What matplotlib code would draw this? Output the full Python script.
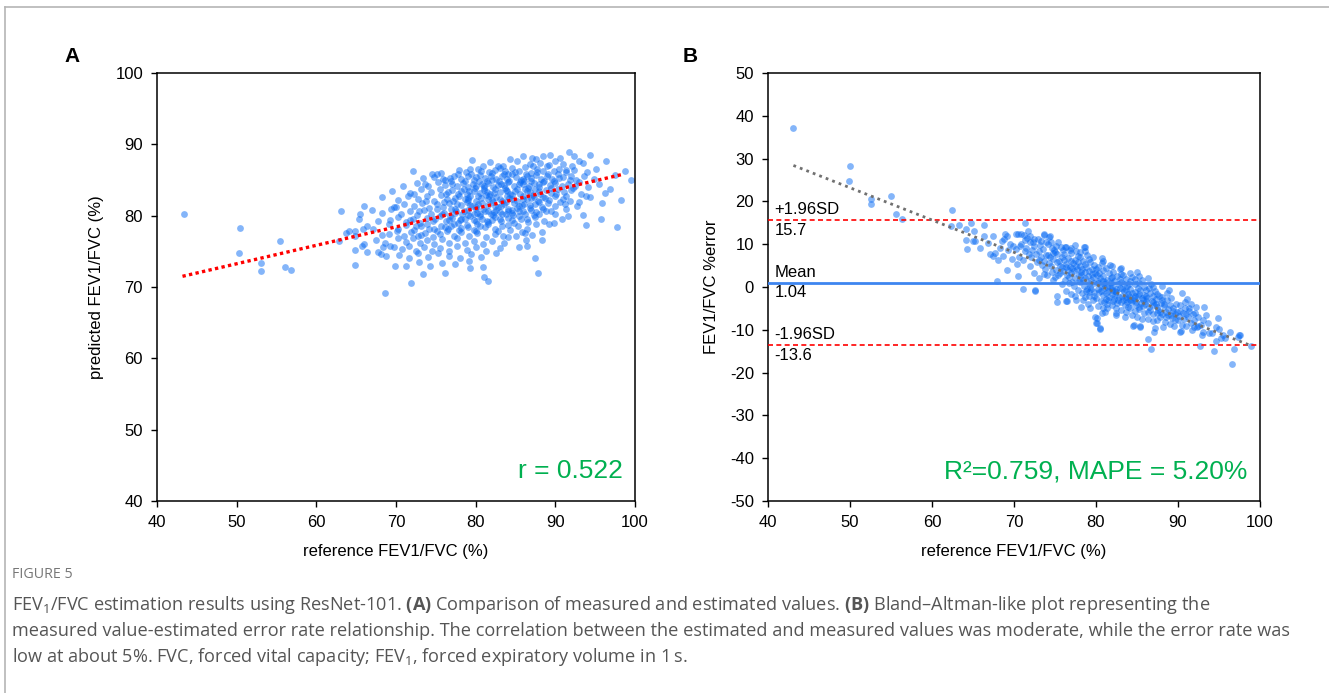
import matplotlib
matplotlib.use("Agg")
import matplotlib.pyplot as plt
from matplotlib.lines import Line2D

plt.rcParams['font.family'] = ['Liberation Sans', 'DejaVu Sans']
plt.rcParams['axes.unicode_minus'] = False
plt.rcParams['mathtext.fontset'] = 'custom'
plt.rcParams['mathtext.rm'] = 'Open Sans'
plt.rcParams['mathtext.bf'] = 'Open Sans:bold'

# panel A: reference vs predicted FEV1/FVC
points_a = [
    (43.4, 80.3), (50.4, 78.3), (50.3, 74.7), (53.0, 73.3), (53.1, 72.2), (55.5, 76.4), (56.1, 72.8), (56.8, 72.4),
    (63.1, 80.6), (63.7, 77.6), (64.1, 77.9), (64.8, 77.8), (64.8, 77.2), (62.9, 76.5), (65.3, 79.6), (65.8, 78.1),
    (64.9, 75.2), (64.9, 73.1), (65.7, 75.7), (66.0, 76.0), (66.4, 74.9), (67.0, 80.8), (67.1, 78.1), (67.8, 74.9),
    (68.1, 74.6), (68.4, 75.6), (68.8, 74.3), (68.6, 69.2), (69.1, 78.9), (69.3, 79.4), (69.7, 81.2), (70.0, 81.2),
    (69.1, 77.5), (69.3, 75.8), (69.7, 75.6), (69.9, 73.0), (70.2, 78.2), (66.0, 81.3), (65.5, 80.3), (68.2, 80.4),
    (68.3, 82.6), (67.8, 79.2), (66.4, 78.6), (67.5, 76.6), (68.6, 76.2), (68.3, 77.3), (69.5, 83.5),
    # y 88-89
    (86.0, 88.4), (87.1, 88.1), (87.6, 88.0), (88.5, 88.3), (89.3, 88.5), (91.7, 88.9), (92.4, 88.3), (94.4, 88.5), (90.6, 88.1),
    # y 87-88
    (79.6, 87.8), (81.8, 87.5), (82.8, 87.0), (83.4, 87.0), (90.0, 87.7), (93.0, 87.7), (93.5, 87.4), (96.3, 87.7),
    (85.2, 87.6), (86.8, 87.3), (88.1, 87.4), (84.3, 87.9), (89.2, 87.1), (91.0, 87.2), (92.1, 87.0),
    # y 86-87
    (72.1, 86.2), (74.5, 85.8), (75.2, 85.8), (78.8, 86.1), (79.3, 86.5), (80.3, 86.6), (81.7, 86.1), (94.0, 86.1),
    (97.5, 85.7), (98.8, 86.3), (76.8, 85.3), (77.9, 86.4), (80.9, 86.9), (82.4, 86.4), (83.7, 86.2), (84.6, 86.7),
    (85.5, 86.3), (86.2, 86.8), (86.9, 86.0), (87.7, 86.5), (88.4, 86.2), (89.0, 86.9), (89.8, 86.3), (90.5, 86.6),
    (91.4, 86.1), (92.3, 86.4), (95.1, 86.5), (83.0, 86.7), (87.2, 86.9),
    # y 85-86
    (73.4, 85.3), (75.9, 85.1), (77.3, 85.6), (78.2, 85.2), (79.0, 85.5), (79.8, 85.0), (80.6, 85.7), (81.2, 85.3),
    (81.9, 85.6), (82.6, 85.1), (83.3, 85.5), (83.9, 85.2), (84.5, 85.8), (85.1, 85.4), (85.7, 85.0), (86.4, 85.6),
    (87.0, 85.3), (87.6, 85.7), (88.2, 85.1), (88.9, 85.5), (89.6, 85.2), (90.3, 85.8), (91.0, 85.4), (91.8, 85.0),
    (92.6, 85.0), (93.6, 85.5), (96.9, 83.7), (99.5, 85.0), (84.0, 85.9), (86.0, 85.2), (82.0, 85.0), (80.1, 85.4),
    # y 84-85
    (70.9, 84.2), (72.6, 84.6), (74.0, 84.1), (75.3, 84.7), (76.1, 84.3), (76.9, 84.8), (77.6, 84.2), (78.4, 84.6),
    (79.1, 84.0), (79.7, 84.5), (80.4, 84.9), (81.0, 84.2), (81.6, 84.6), (82.2, 84.0), (82.9, 84.8), (83.5, 84.3),
    (84.1, 84.7), (84.8, 84.1), (85.4, 84.5), (86.1, 84.9), (86.7, 84.2), (87.3, 84.6), (88.0, 84.0), (88.6, 84.8),
    (89.3, 84.3), (90.0, 84.6), (90.8, 84.1), (91.6, 84.5), (92.5, 84.2), (94.1, 84.0), (95.5, 84.4), (83.2, 84.5),
    (85.9, 84.4), (87.9, 84.5), (80.8, 84.4),
    # y 83-84
    (71.8, 83.2), (73.1, 83.8), (74.4, 83.3), (75.5, 83.7), (76.3, 83.1), (77.0, 83.6), (77.8, 83.0), (78.5, 83.8),
    (79.2, 83.4), (79.9, 83.9), (80.5, 83.2), (81.1, 83.6), (81.8, 83.0), (82.4, 83.7), (83.0, 83.3), (83.7, 83.9),
    (84.3, 83.1), (84.9, 83.5), (85.6, 83.0), (86.2, 83.8), (86.8, 83.3), (87.5, 83.7), (88.1, 83.1), (88.8, 83.6),
    (89.5, 83.2), (90.3, 83.8), (91.1, 83.3), (92.0, 83.6), (93.2, 83.1), (96.2, 83.2), (81.4, 83.3), (83.9, 83.4),
    (86.5, 83.5), (78.9, 83.1),
    # y 82-83
    (70.2, 82.2), (71.5, 82.8), (72.8, 82.3), (73.9, 82.7), (74.8, 82.1), (75.6, 82.9), (76.4, 82.4), (77.1, 82.0),
    (77.9, 82.7), (78.6, 82.3), (79.3, 82.8), (80.0, 82.1), (80.7, 82.5), (81.3, 82.9), (82.0, 82.2), (82.6, 82.6),
    (83.3, 82.0), (83.9, 82.8), (84.6, 82.4), (85.2, 82.0), (85.9, 82.7), (86.5, 82.3), (87.2, 82.9), (87.8, 82.1),
    (88.5, 82.6), (89.2, 82.2), (90.0, 82.8), (90.9, 82.3), (91.8, 82.0), (93.0, 81.9), (93.9, 82.8), (94.3, 82.6),
    (95.8, 81.8), (98.2, 82.2), (81.6, 82.4), (84.2, 82.5), (86.9, 82.5), (79.0, 82.5),
    # y 81-82
    (71.0, 81.7), (72.2, 81.3), (73.3, 81.8), (74.2, 81.1), (75.1, 81.6), (75.9, 81.2), (76.7, 81.8), (77.4, 81.0),
    (78.2, 81.5), (78.9, 81.9), (79.6, 81.3), (80.3, 81.7), (80.9, 81.0), (81.5, 81.5), (82.2, 81.9), (82.8, 81.2),
    (83.5, 81.6), (84.1, 81.0), (84.8, 81.8), (85.4, 81.3), (86.1, 81.7), (86.8, 81.1), (87.5, 81.6), (88.3, 81.2),
    (89.1, 81.8), (90.0, 81.3), (91.2, 81.6), (92.7, 81.3), (83.2, 81.4), (85.8, 81.5), (88.0, 81.9), (80.0, 81.2),
    # y 80-81
    (69.4, 80.9), (70.6, 80.2), (71.7, 80.7), (72.6, 80.1), (73.5, 80.8), (74.4, 80.3), (75.2, 80.9), (76.0, 80.4),
    (76.8, 80.0), (77.5, 80.7), (78.3, 80.2), (79.0, 80.8), (79.8, 80.3), (80.5, 80.0), (81.2, 80.6), (81.9, 80.2),
    (82.6, 80.8), (83.3, 80.3), (84.0, 80.7), (84.7, 80.1), (85.4, 80.6), (86.2, 80.2), (87.0, 80.8), (87.9, 80.3),
    (88.8, 80.7), (89.9, 80.2), (91.6, 80.0), (93.5, 80.1), (82.3, 80.5), (80.2, 80.4), (84.5, 80.4),
    # y 79-80
    (70.3, 79.8), (71.2, 79.1), (72.1, 79.6), (73.0, 79.0), (73.9, 79.7), (74.7, 79.3), (75.5, 79.9), (76.3, 79.2),
    (77.0, 79.7), (77.8, 79.0), (78.6, 79.5), (79.3, 79.9), (80.1, 79.2), (80.8, 79.6), (81.6, 79.1), (82.4, 79.8),
    (83.2, 79.3), (84.0, 79.7), (84.8, 79.0), (85.7, 79.5), (86.6, 79.1), (87.5, 79.8), (88.6, 79.3), (89.8, 79.0),
    (95.7, 79.5), (90.8, 79.6), (78.0, 79.4), (82.0, 79.4),
    # y 78-79
    (71.3, 78.7), (72.2, 78.0), (73.1, 78.5), (73.9, 78.9), (74.8, 78.2), (75.6, 78.6), (76.5, 78.1), (77.3, 78.8),
    (78.1, 78.3), (78.9, 78.7), (79.8, 78.0), (80.6, 78.5), (81.5, 78.9), (82.4, 78.2), (83.3, 78.6), (84.3, 78.0),
    (85.3, 78.5), (86.4, 78.2), (87.6, 78.8), (89.2, 78.8), (93.9, 78.7), (97.8, 78.4), (76.1, 78.4), (80.2, 78.8),
    # y 77-78
    (70.1, 77.9), (71.0, 77.2), (71.9, 77.7), (72.8, 77.1), (73.7, 77.6), (74.6, 77.0), (75.5, 77.5), (76.4, 77.9),
    (77.3, 77.2), (78.2, 77.7), (79.2, 77.1), (80.2, 77.6), (81.3, 77.0), (82.4, 77.5), (83.4, 77.1), (84.1, 77.0),
    (85.1, 77.1), (86.2, 77.6), (88.3, 77.7), (87.1, 77.3), (73.2, 77.3),
    # y 76-77
    (70.2, 76.8), (71.2, 76.3), (72.1, 76.9), (73.0, 76.1), (73.9, 76.6), (74.8, 76.0), (75.8, 76.7), (76.7, 76.2),
    (77.7, 76.8), (78.7, 76.1), (79.8, 76.5), (80.9, 76.0), (82.1, 76.4), (86.3, 76.6), (88.3, 76.6), (83.5, 76.2),
    # y 75-76
    (70.8, 75.3), (71.6, 75.8), (72.5, 75.1), (73.5, 75.6), (74.5, 75.0), (75.5, 75.5), (76.6, 75.1), (77.7, 75.7),
    (78.9, 75.2), (80.1, 75.6), (81.3, 75.0), (85.5, 75.6), (86.4, 75.8), (83.0, 75.4),
    # y 74-75
    (70.4, 74.5), (71.6, 74.1), (72.8, 74.7), (74.0, 74.2), (75.3, 74.8), (76.6, 74.3), (78.0, 74.0), (79.4, 74.6),
    (80.7, 74.2), (87.4, 74.0), (82.6, 74.7),
    # y below 74
    (71.2, 73.0), (74.3, 72.9), (77.4, 73.2), (79.2, 73.6), (80.9, 72.8), (72.9, 73.5), (75.8, 73.4), (76.2, 71.9),
    (73.4, 71.8), (87.8, 72.0), (81.0, 71.4), (81.5, 70.9), (71.9, 70.6), (79.3, 72.6),
    # dense core, second layer
    (76.2, 85.0), (77.0, 84.5), (77.8, 85.9), (78.6, 84.9), (79.4, 85.8), (80.0, 84.1), (80.7, 86.2), (81.4, 84.9),
    (82.1, 86.0), (82.8, 84.3), (83.5, 85.8), (84.2, 84.9), (84.9, 86.1), (85.6, 84.7), (86.3, 85.9), (87.0, 84.8),
    (87.7, 86.1), (88.4, 84.7), (89.1, 85.9), (89.8, 84.8), (90.5, 85.3), (91.3, 86.4),
    (76.5, 83.3), (77.4, 82.5), (78.2, 83.4), (79.0, 82.2), (79.8, 83.5), (80.3, 82.8), (81.0, 83.9), (81.7, 82.7),
    (82.3, 83.2), (83.1, 82.4), (83.8, 83.6), (84.5, 82.9), (85.2, 83.7), (85.9, 82.3), (86.6, 83.9), (87.3, 82.6),
    (88.0, 83.4), (88.7, 82.5), (89.4, 83.9), (90.1, 83.0), (91.4, 82.7),
    (76.0, 81.9), (76.9, 80.9), (77.7, 81.7), (78.5, 80.6), (79.3, 81.5), (80.1, 80.9), (80.8, 81.8), (81.6, 80.7),
    (82.4, 81.3), (83.1, 80.5), (83.8, 81.9), (84.5, 80.8), (85.2, 81.1), (86.0, 80.6), (86.8, 81.5), (87.6, 80.5),
    (88.5, 81.0), (89.5, 80.6),
    (74.9, 79.6), (75.8, 80.3), (76.6, 79.4), (77.4, 80.4), (78.2, 79.6), (79.0, 80.1), (79.8, 79.4), (80.6, 80.2),
    (81.4, 79.3), (82.2, 80.1), (83.0, 79.5), (83.8, 80.2), (84.6, 79.4), (85.5, 80.0), (86.4, 79.6), (87.3, 80.1),
    (74.2, 78.1), (75.2, 77.8), (76.9, 78.5), (77.9, 78.0), (79.0, 78.4), (80.1, 77.9), (81.2, 78.4), (82.8, 77.8),
    (84.0, 78.7), (85.8, 77.7),
    (72.9, 80.6), (73.8, 82.1), (72.3, 83.1), (73.6, 84.4), (74.8, 85.4), (75.7, 86.0), (71.8, 79.4), (72.5, 78.6),
    (92.2, 83.9), (93.0, 84.7), (90.6, 81.9), (91.3, 80.9), (92.0, 85.5), (94.8, 85.2),
]

# panel B: reference value vs % error
points_b = [
    (43.1, 37.1), (50.0, 28.2), (49.9, 24.7), (52.6, 20.6), (52.6, 19.5), (55.0, 21.3), (55.6, 17.1), (56.3, 16.0),
    (62.4, 18.1), (62.3, 14.2), (63.3, 14.4), (64.7, 14.9), (64.1, 13.5), (65.1, 13.1), (64.2, 10.9), (65.0, 10.8),
    (65.3, 10.8), (64.3, 8.8), (65.8, 9.1),
    (66.3, 14.4), (66.3, 11.8), (67.1, 7.7), (67.4, 7.3), (67.7, 7.9), (67.9, 1.4), (66.8, 10.2), (67.5, 12.0),
    (68.0, 6.2), (68.3, 9.1), (68.5, 10.7), (68.9, 12.3), (69.2, 12.0), (68.6, 7.3), (69.1, 4.0), (69.3, 8.7),
    (69.7, 6.5), (69.5, 10.1), (68.8, 11.3), (69.9, 9.5),
    (70.2, 12.5), (70.5, 12.3), (70.8, 12.4), (71.3, 15.0), (71.3, 11.0), (71.6, 11.4), (70.3, 8.8), (70.6, 7.1),
    (71.1, 6.3), (70.5, 2.6), (71.1, -0.5), (70.9, 10.0), (71.5, 9.2), (71.8, 7.8), (70.4, 5.4), (71.9, 4.9),
    (71.2, 12.1), (71.7, 13.0), (70.7, 9.6), (71.4, 8.3),
    (72.0, 12.0), (72.3, 10.5), (72.6, -0.7), (72.6, -0.9), (73.6, 12.2), (73.7, 12.3), (72.9, 11.3), (73.2, 9.9),
    (72.2, 8.7), (72.7, 7.6), (73.0, 6.4), (73.4, 5.2), (73.8, 4.1), (72.4, 3.3), (73.1, 2.0), (73.5, 8.9),
    (73.9, 10.6), (72.8, 5.8), (73.3, 7.1), (72.1, 6.9), (73.7, 3.0), (72.5, 9.6), (73.6, 6.0),
    (74.3, 11.6), (74.4, 11.8), (74.1, 10.1), (74.6, 9.0), (75.0, 8.2), (75.4, 10.4), (74.2, 7.4), (74.8, 6.6),
    (75.3, 5.8), (75.8, 7.0), (74.5, 4.9), (75.1, 4.0), (75.6, 3.2), (74.0, 2.7), (74.7, 1.6), (75.2, -2.1),
    (75.3, -3.4), (75.9, 0.6), (74.9, 8.7), (75.5, 6.1), (74.3, 5.5), (75.7, 9.3), (74.6, 3.5), (75.0, 2.3),
    (75.9, 4.6), (74.4, 6.9), (75.2, 7.8),
    (76.3, 9.4), (76.2, 9.3), (76.5, -3.3), (76.4, -3.3), (77.5, 9.8), (77.6, 8.3), (77.6, -3.0), (76.1, 7.6),
    (76.6, 6.8), (77.0, 7.9), (77.4, 6.3), (77.8, 7.2), (76.3, 5.4), (76.8, 4.7), (77.2, 5.6), (77.7, 4.2),
    (76.0, 3.8), (76.5, 2.9), (77.0, 3.3), (77.5, 2.1), (77.9, 1.4), (76.2, 1.7), (76.7, 0.9), (77.3, 0.2),
    (77.8, -0.6), (76.4, -1.0), (76.9, -1.6), (77.4, -2.2), (76.8, 8.6), (77.1, 1.2), (76.6, 4.0), (77.6, 5.0),
    (76.1, 6.2),
    (78.5, 9.3), (78.6, 8.3), (78.6, 9.4), (78.2, -4.6), (79.3, -5.0), (79.3, 5.9), (79.9, -7.1), (78.1, 7.0),
    (78.4, 6.1), (78.9, 7.5), (79.2, 6.6), (79.7, 5.2), (78.0, 5.0), (78.3, 4.1), (78.8, 4.6), (79.1, 3.7),
    (79.5, 4.3), (79.9, 3.2), (78.2, 2.8), (78.6, 2.0), (79.0, 2.5), (79.4, 1.6), (79.8, 0.9), (78.1, 1.1),
    (78.5, 0.3), (78.9, -0.4), (79.3, 0.0), (79.7, -1.1), (78.3, -1.5), (78.7, -2.3), (79.1, -2.0), (79.6, -3.0),
    (78.4, -3.1), (79.0, -3.9), (79.5, 3.0), (78.7, 3.4), (79.2, -1.2),
    (80.0, -8.5), (80.1, -8.5), (80.5, -9.5), (80.5, -9.7), (80.1, -7.2), (80.7, 5.5), (80.7, 6.7), (81.7, 5.1),
    (81.1, -5.8), (80.3, 4.6), (80.8, 3.9), (81.2, 4.4), (81.6, 3.3), (80.1, 2.7), (80.5, 2.1), (80.9, 2.5),
    (81.3, 1.6), (81.8, 1.0), (80.2, 0.9), (80.6, 0.3), (81.0, -0.3), (81.4, 0.1), (81.9, -0.8), (80.4, -1.2),
    (80.8, -1.9), (81.2, -1.5), (81.6, -2.4), (80.0, -2.6), (80.6, -3.2), (81.0, -3.6), (81.5, -3.0), (81.9, -4.1),
    (80.3, -4.4), (80.9, -5.0), (81.4, -4.8), (80.7, -6.0), (81.8, 2.2), (80.4, 3.3), (81.1, 1.1), (81.5, -1.0),
    (82.5, -6.1), (82.5, -6.5), (83.5, -7.1), (83.3, 2.8), (82.1, 3.5), (82.6, 2.6), (83.0, 3.1), (83.6, 1.9),
    (82.2, 1.4), (82.7, 0.8), (83.1, 1.2), (83.8, 0.3), (82.0, 0.1), (82.4, -0.5), (82.9, -0.2), (83.4, -1.0),
    (83.9, -1.6), (82.3, -1.8), (82.8, -2.4), (83.2, -2.0), (83.7, -2.9), (82.1, -3.2), (82.6, -3.8), (83.0, -3.4),
    (83.5, -4.2), (83.9, -4.6), (82.4, -4.9), (83.1, -5.3), (83.7, -5.8), (82.9, 4.1), (83.4, 0.6), (82.2, -2.7),
    (83.8, -3.5),
    (84.4, 2.4), (85.0, 3.4), (85.2, 2.6), (84.6, -8.9), (84.5, -9.1), (85.4, -9.1), (85.4, -9.3), (84.1, 1.3),
    (84.7, 0.7), (85.3, 1.0), (85.8, 0.0), (84.2, -0.4), (84.8, -1.1), (85.4, -0.7), (85.9, -1.8), (84.0, -2.0),
    (84.6, -2.6), (85.1, -2.2), (85.7, -3.1), (84.3, -3.6), (84.9, -4.1), (85.5, -3.8), (84.1, -4.9), (84.7, -5.5),
    (85.3, -5.2), (85.9, -6.0), (84.4, -6.6), (85.0, -7.0), (85.6, -7.4), (84.8, 1.8), (85.2, -4.6), (84.5, -3.0),
    (86.3, 2.0), (87.0, 0.1), (88.0, 0.2), (86.3, -12.2), (86.7, -14.6), (87.2, -9.5), (87.1, -10.4), (86.1, -0.8),
    (86.6, -1.4), (87.2, -1.0), (87.7, -2.1), (86.2, -2.6), (86.8, -3.2), (87.3, -2.8), (87.9, -3.7), (86.0, -4.0),
    (86.5, -4.6), (87.1, -4.2), (87.6, -5.3), (86.3, -5.9), (86.9, -6.4), (87.4, -6.0), (87.8, -7.1), (86.4, -7.5),
    (87.0, -8.0), (87.5, -7.7), (86.7, 0.6), (87.4, -1.6),
    (88.2, -9.3), (88.9, -0.7), (88.1, -2.4), (88.6, -3.0), (89.2, -2.6), (89.7, -3.9), (88.3, -4.5), (88.8, -5.1),
    (89.4, -4.8), (89.9, -5.8), (88.0, -6.2), (88.5, -6.9), (89.1, -6.5), (89.6, -7.6), (88.4, -8.2), (89.0, -8.7),
    (89.5, -9.0), (88.7, -1.5), (89.3, -7.3),
    (90.5, -1.5), (91.1, -2.7), (91.6, -4.0), (90.3, -10.4), (90.4, -10.2), (91.7, -10.0), (90.2, -4.3), (90.8, -5.0),
    (91.3, -5.6), (91.8, -6.3), (90.1, -6.8), (90.7, -7.4), (91.2, -7.0), (91.6, -8.3), (90.5, -8.8), (91.0, -9.1),
    (91.9, -9.4), (90.9, -3.4),
    (92.2, -4.7), (93.2, -4.6), (92.3, -9.3), (92.5, -9.0), (93.0, -10.4), (93.8, -10.7), (92.7, -13.8), (92.4, -7.0),
    (93.1, -7.8), (93.6, -8.4), (92.1, -6.0), (92.9, -11.2),
    (94.9, -7.2), (94.6, -9.4), (94.6, -12.5), (95.2, -12.0), (95.7, -11.8), (94.4, -14.9), (95.5, -11.2), (94.2, -10.8),
    (95.0, -9.9),
    (96.3, -10.4), (97.6, -11.2), (97.3, -11.6), (96.6, -18.1), (96.8, -14.6), (98.9, -13.7), (97.5, -11.1),
    # dense core, second layer
    (72.4, 11.1), (73.0, 8.3), (73.9, 7.5), (74.5, 10.5), (75.1, 9.6), (75.6, 5.0), (76.0, 8.7), (76.4, 4.6),
    (76.9, 6.0), (77.3, 3.8), (77.8, 5.9), (78.2, 3.5), (78.6, 5.4), (79.1, 1.0), (79.6, 2.3), (80.0, 4.2),
    (80.3, -0.5), (80.8, 1.4), (81.2, -2.7), (81.7, -0.1), (82.0, 2.4), (82.5, -1.2), (82.9, 1.9), (83.3, -3.0),
    (83.6, -0.6), (84.0, 0.8), (84.4, -1.4), (84.9, -3.4), (85.3, -1.6), (85.7, -4.5), (86.1, -2.0), (86.6, -5.3),
    (87.0, -3.5), (87.5, -4.7), (88.0, -3.1), (88.5, -5.8), (89.0, -4.1), (89.6, -6.3), (90.3, -5.7), (91.0, -6.4),
    (74.7, 7.9), (75.4, 2.9), (76.7, 2.4), (77.1, 4.5), (77.9, 2.9), (78.4, 1.6), (78.8, -1.0), (79.4, -0.4),
    (79.8, -2.0), (80.2, 1.5), (80.6, -1.0), (81.0, 0.6), (81.4, -3.9), (81.9, -1.7), (82.3, -0.9), (82.7, -3.1),
    (83.2, -0.5), (83.6, -2.3), (84.2, -3.0), (84.7, -2.1), (85.1, -0.3), (85.6, -2.5), (86.1, -3.3), (86.5, -0.2),
    (86.9, -2.2), (87.3, -4.0), (87.8, -5.9), (88.3, -3.9), (88.8, -6.6), (89.4, -5.5), (90.0, -7.7), (90.6, -6.1),
    (91.4, -4.8), (92.0, -7.7), (92.8, -8.9), (93.4, -6.6), (77.0, 9.1), (78.0, 8.2), (79.6, 7.1), (80.9, 6.1),
    (82.0, 4.8), (83.0, 4.5), (84.1, 3.3), (85.6, 1.6), (72.0, 10.6), (73.3, 10.7),
]

trend_a_x = [43.2, 98.5]
trend_a_y = [71.5, 85.8]
trend_b_x = [43.1, 98.9]
trend_b_y = [28.4, -13.7]
mean_diff = 1.04
upper_loa = 15.7
lower_loa = -13.6

ticks_a = [40, 50, 60, 70, 80, 90, 100]
ticks_b_y = [-50, -40, -30, -20, -10, 0, 10, 20, 30, 40, 50]

dot_color = '#0b6cf4'
green = '#00b050'

fig = plt.figure(figsize=(13.29, 6.93), dpi=100)

# outer frame (top and left only)
fig.add_artist(Line2D([5 / 1329, 1], [1 - 7 / 693, 1 - 7 / 693], color='#b5b5b5', lw=1.2))
fig.add_artist(Line2D([5 / 1329, 5 / 1329], [0, 1 - 7 / 693], color='#b5b5b5', lw=1.2))

ax1 = fig.add_axes([157 / 1329, 192 / 693, 478 / 1329, 428 / 693])
ax2 = fig.add_axes([768 / 1329, 192 / 693, 492 / 1329, 428 / 693])

ax1.scatter([p[0] for p in points_a], [p[1] for p in points_a], s=24, color=dot_color, alpha=0.5, linewidths=0, zorder=2)
ax1.plot(trend_a_x, trend_a_y, color='red', lw=2.4, linestyle=(0, (1, 1)), zorder=3)
ax1.set_xlim(40, 100)
ax1.set_ylim(40, 100)
ax1.set_xticks(ticks_a)
ax1.set_yticks(ticks_a)
ax1.set_xlabel('reference FEV1/FVC (%)', fontsize=12, labelpad=10)
ax1.set_ylabel('predicted FEV1/FVC (%)', fontsize=12, labelpad=8)
ax1.text(0.975, 0.07, 'r = 0.522', transform=ax1.transAxes, ha='right', va='center', fontsize=19, color=green)

ax2.scatter([p[0] for p in points_b], [p[1] for p in points_b], s=24, color=dot_color, alpha=0.5, linewidths=0, zorder=2)
ax2.axhline(upper_loa, color='red', lw=1.2, linestyle=(0, (3, 2)), zorder=3)
ax2.axhline(lower_loa, color='red', lw=1.2, linestyle=(0, (3, 2)), zorder=3)
ax2.axhline(mean_diff, color='#3d85f0', lw=2, zorder=3)
ax2.plot(trend_b_x, trend_b_y, color='#707070', lw=2, linestyle=(0, (1, 1.5)), zorder=4)
ax2.set_xlim(40, 100)
ax2.set_ylim(-50, 50)
ax2.set_xticks(ticks_a)
ax2.set_yticks(ticks_b_y)
ax2.set_xlabel('reference FEV1/FVC (%)', fontsize=12, labelpad=10)
ax2.set_ylabel('FEV1/FVC %error', fontsize=12, labelpad=8)
ax2.text(0.975, 0.07, 'R²=0.759, MAPE = 5.20%', transform=ax2.transAxes, ha='right', va='center', fontsize=19, color=green)

for lab, val, vtxt in [('+1.96SD', upper_loa, '15.7'), ('Mean', mean_diff, '1.04'), ('-1.96SD', lower_loa, '-13.6')]:
    ax2.annotate(lab, (40.8, val), xytext=(0, 2), textcoords='offset points', ha='left', va='bottom', fontsize=12)
    ax2.annotate(vtxt, (40.8, val), xytext=(0, -2), textcoords='offset points', ha='left', va='top', fontsize=12)

for ax in (ax1, ax2):
    for sp in ax.spines.values():
        sp.set_linewidth(1.1)
    ax.tick_params(direction='out', length=4, width=1, labelsize=12, pad=6)

fig.text(72 / 1329, 1 - 57 / 693, 'A', fontsize=15, fontweight='bold', ha='center', va='center')
fig.text(690 / 1329, 1 - 57 / 693, 'B', fontsize=15, fontweight='bold', ha='center', va='center')

# caption
cap_color = '#555555'
fig.text(12 / 1329, 1 - 575 / 693, 'FIGURE 5', fontsize=10.3, color='#777777', family='Open Sans', va='center')
cap_lines = [
    'FEV$_1$/FVC estimation results using ResNet-101. $\\mathbf{(A)}$ Comparison of measured and estimated values. '
    '$\\mathbf{(B)}$ Bland\u2013Altman-like plot representing the',
    'measured value-estimated error rate relationship. The correlation between the estimated and measured values was '
    'moderate, while the error rate was',
    'low at about 5%. FVC, forced vital capacity; FEV$_1$, forced expiratory volume in 1\u2009s.',
]
for i, line in enumerate(cap_lines):
    fig.text(12 / 1329, 1 - (605 + 26 * i) / 693, line, fontsize=13.1, color=cap_color,
             family=['Open Sans', 'DejaVu Sans'], va='center')

fig.savefig('out.png', dpi=100)
